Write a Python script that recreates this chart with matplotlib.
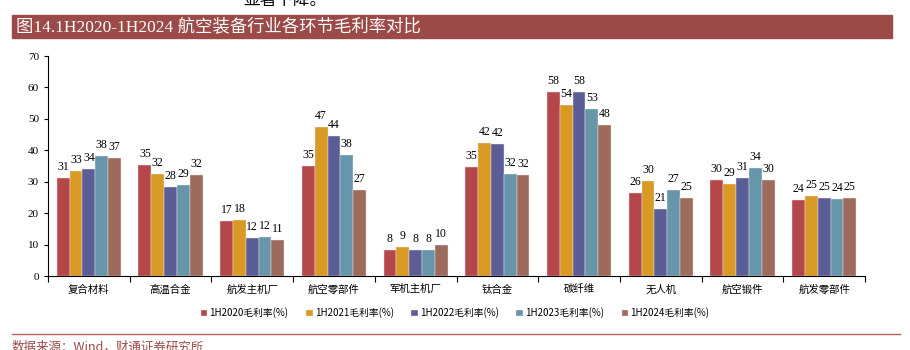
import numpy as np
import matplotlib.pyplot as plt

plt.rcParams['font.family'] = ['Liberation Serif', 'Noto Sans CJK SC']

categories = ['复合材料', '高温合金', '航发主机厂', '航空零部件', '军机主机厂',
              '钛合金', '碳纤维', '无人机', '航空锻件', '航发零部件']
series = ['1H2020毛利率(%)', '1H2021毛利率(%)', '1H2022毛利率(%)',
          '1H2023毛利率(%)', '1H2024毛利率(%)']
v2020 = [31.3, 35.4, 17.4, 35.1, 8.4, 34.8, 58.4, 26.4, 30.4, 24.2]
v2021 = [33.4, 32.4, 17.9, 47.3, 9.1, 42.4, 54.4, 30.3, 29.4, 25.4]
v2022 = [34.0, 28.3, 12.1, 44.4, 8.4, 42.1, 58.4, 21.2, 31.2, 24.9]
v2023 = [38.1, 29.1, 12.4, 38.4, 8.4, 32.4, 53.2, 27.3, 34.4, 24.4]
v2024 = [37.4, 32.1, 11.4, 27.3, 10.0, 32.2, 48.0, 24.8, 30.4, 24.8]
colors = ['#B5474A', '#D99A25', '#5B5E96', '#6796AA', '#9C6B5C']

data = [v2020, v2021, v2022, v2023, v2024]

fig = plt.figure(figsize=(9.1, 3.5), dpi=100)
ax = fig.add_axes([48 / 910, 1 - 276 / 350, (865 - 48) / 910, 220 / 350])

x = np.arange(len(categories))
w = 0.157
for i, (vals, c, name) in enumerate(zip(data, colors, series)):
    pos = x + (i - 2) * w
    ax.bar(pos, vals, width=w, color=c, label=name,
           edgecolor='#f0e6e6', linewidth=0.3)
    for p, v in zip(pos, vals):
        ax.text(p, v + 1.6, f'{v:.0f}', ha='center', va='bottom', fontsize=8.5)

ax.set_xlim(-0.5, len(categories) - 0.5)
ax.set_ylim(0, 70)
ax.set_yticks(range(0, 71, 10))
ax.tick_params(axis='y', labelsize=8, length=3, width=0.8, direction='out')
ax.set_xticks(np.arange(-0.5, len(categories), 1))
ax.set_xticklabels([])
ax.set_xticks(x, minor=True)
ax.set_xticklabels(categories, minor=True, fontsize=7.5,
                   family=['Noto Sans CJK SC'])
ax.tick_params(axis='x', which='major', length=4, width=0.8, direction='out')
ax.tick_params(axis='x', which='minor', length=0, pad=6)
for s in ['top', 'right']:
    ax.spines[s].set_visible(False)
for s in ['left', 'bottom']:
    ax.spines[s].set_linewidth(0.8)

ax.legend(loc='center', bbox_to_anchor=(455 / 910, 1 - 313 / 350),
          bbox_transform=fig.transFigure, ncol=5, frameon=False,
          prop={'family': 'Noto Sans CJK SC', 'size': 7},
          handlelength=0.7, handleheight=0.7, handletextpad=0.2,
          columnspacing=1.8)

# title band
band_color = '#9B4A47'
fig.patches.append(plt.Rectangle((12 / 910, 1 - 38 / 350), 880 / 910, 23 / 350,
                                 transform=fig.transFigure, color=band_color,
                                 zorder=0))
fig.text(16 / 910, 1 - 27 / 350, '图14.1H2020-1H2024 航空装备行业各环节毛利率对比',
         color='white', fontsize=12.5, va='center', ha='left')

# cut-off text at the top
fig.text(243 / 910, 1 - 5 / 350, '显著下降。', fontsize=12, va='baseline',
         ha='left', family=['Noto Sans CJK SC'])

# bottom rule and source
fig.add_artist(plt.Line2D([12 / 910, 900 / 910], [1 - 334 / 350, 1 - 334 / 350],
                          transform=fig.transFigure, color='#B5605A', lw=1))
fig.text(12 / 910, 1 - 347 / 350, '数据来源：Wind，财通证券研究所', color=band_color,
         fontsize=9, va='center', ha='left', family=['Noto Sans CJK SC'])

fig.savefig('out.png', dpi=100)
